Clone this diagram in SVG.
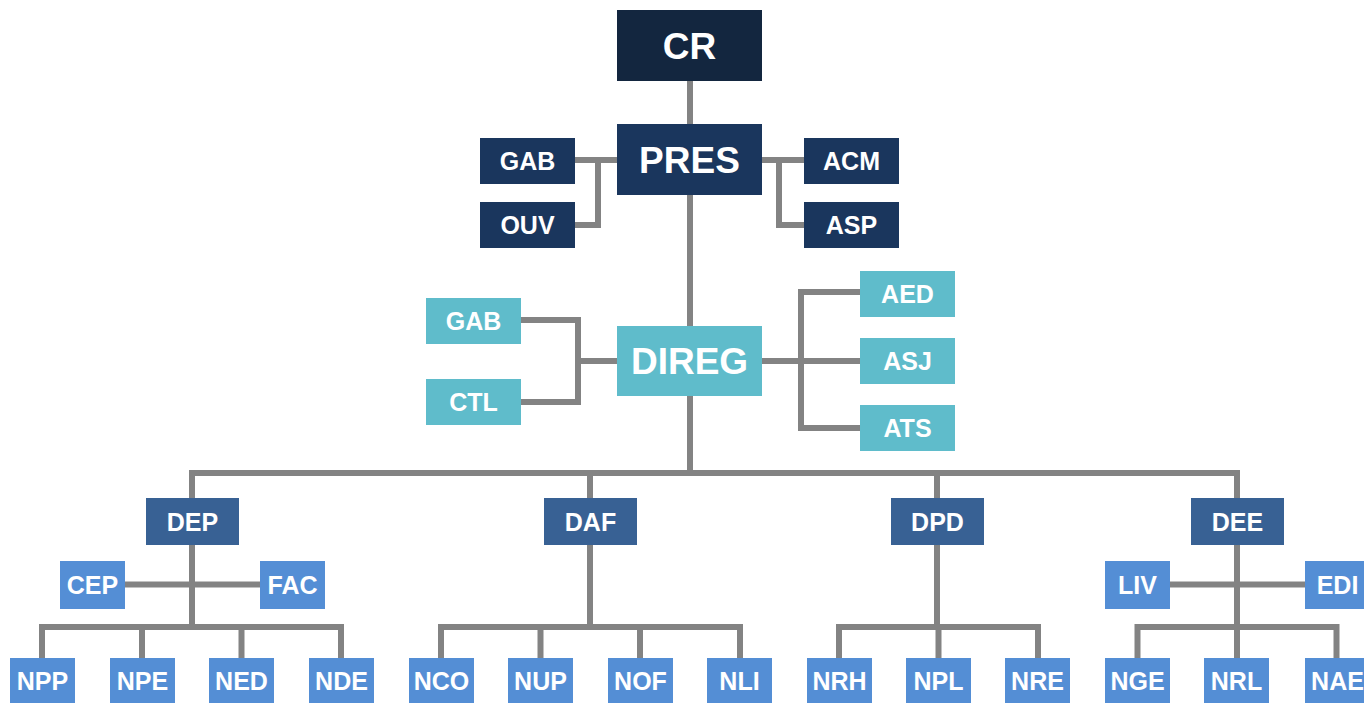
<svg xmlns="http://www.w3.org/2000/svg" width="1364" height="703" viewBox="0 0 1364 703">
<style>
.c{fill:none;stroke:#838383;stroke-width:6;stroke-linejoin:miter}
.t{font-family:"Liberation Sans",Arial,sans-serif;font-weight:bold;fill:#fff;text-anchor:middle}
.big{font-size:37px}
.sm{font-size:25px}
.n0{fill:#13263f}
.n1{fill:#1a365d}
.n2{fill:#5fbccb}
.n3{fill:#386194}
.n4{fill:#548ed5}
</style>
<rect width="1364" height="703" fill="#fff"/>
<g id="connectors">
<path class="c" d="M690,81 V124"/>
<path class="c" d="M575,160 H617 M598,160 V225 H575"/>
<path class="c" d="M762,160 H804 M779,160 V225 H804"/>
<path class="c" d="M690,195 V326"/>
<path class="c" d="M521,320 H578 V402 H521 M578,361 H617"/>
<path class="c" d="M762,361 H860 M860,292 H801 V428 H860"/>
<path class="c" d="M690,396 V473 M192,498 V473 H1237 V498 M590,473 V498 M937,473 V498"/>
<path class="c" d="M192,545 V627 M125,584.5 H260 M42,658 V627 H341 V658 M142,627 V658 M241.5,627 V658"/>
<path class="c" d="M590,545 V627 M441,658 V627 H740 V658 M540.5,627 V658 M640,627 V658"/>
<path class="c" d="M937,545 V627 M839,658 V627 H1038 V658 M938.5,627 V658"/>
<path class="c" d="M1237,545 V627 M1170,584.5 H1305 M1137.5,658 V627 H1336.5 V658 M1237,627 V658"/>
</g>
<g id="CR"><rect class="n0" x="617" y="10" width="145" height="71"/><text class="t big" x="689.5" y="59">CR</text></g>
<g id="PRES"><rect class="n1" x="617" y="124" width="145" height="71"/><text class="t big" x="689.5" y="173">PRES</text></g>
<g id="GAB1"><rect class="n1" x="480" y="138" width="95" height="46"/><text class="t sm" x="527.5" y="169.5">GAB</text></g>
<g id="OUV"><rect class="n1" x="480" y="202" width="95" height="46"/><text class="t sm" x="527.5" y="233.5">OUV</text></g>
<g id="ACM"><rect class="n1" x="804" y="138" width="95" height="46"/><text class="t sm" x="851.5" y="169.5">ACM</text></g>
<g id="ASP"><rect class="n1" x="804" y="202" width="95" height="46"/><text class="t sm" x="851.5" y="233.5">ASP</text></g>
<g id="DIREG"><rect class="n2" x="617" y="326" width="145" height="70"/><text class="t big" x="689.5" y="373.5">DIREG</text></g>
<g id="GAB2"><rect class="n2" x="426" y="298" width="95" height="46"/><text class="t sm" x="473.5" y="329.5">GAB</text></g>
<g id="CTL"><rect class="n2" x="426" y="379" width="95" height="46"/><text class="t sm" x="473.5" y="410.5">CTL</text></g>
<g id="AED"><rect class="n2" x="860" y="271" width="95" height="46"/><text class="t sm" x="907.5" y="302.5">AED</text></g>
<g id="ASJ"><rect class="n2" x="860" y="338" width="95" height="46"/><text class="t sm" x="907.5" y="369.5">ASJ</text></g>
<g id="ATS"><rect class="n2" x="860" y="405" width="95" height="46"/><text class="t sm" x="907.5" y="436.5">ATS</text></g>
<g id="DEP"><rect class="n3" x="146" y="498" width="93" height="47"/><text class="t sm" x="192.5" y="530.5">DEP</text></g>
<g id="DAF"><rect class="n3" x="544" y="498" width="93" height="47"/><text class="t sm" x="590.5" y="530.5">DAF</text></g>
<g id="DPD"><rect class="n3" x="891" y="498" width="93" height="47"/><text class="t sm" x="937.5" y="530.5">DPD</text></g>
<g id="DEE"><rect class="n3" x="1191" y="498" width="93" height="47"/><text class="t sm" x="1237.5" y="530.5">DEE</text></g>
<g id="CEP"><rect class="n4" x="60" y="561" width="65" height="48"/><text class="t sm" x="92.5" y="593.5">CEP</text></g>
<g id="FAC"><rect class="n4" x="260" y="561" width="65" height="48"/><text class="t sm" x="292.5" y="593.5">FAC</text></g>
<g id="LIV"><rect class="n4" x="1105" y="561" width="65" height="48"/><text class="t sm" x="1137.5" y="593.5">LIV</text></g>
<g id="EDI"><rect class="n4" x="1305" y="561" width="65" height="48"/><text class="t sm" x="1337.5" y="593.5">EDI</text></g>
<g id="NPP"><rect class="n4" x="10" y="658" width="65" height="45"/><text class="t sm" x="42.5" y="690">NPP</text></g>
<g id="NPE"><rect class="n4" x="110" y="658" width="65" height="45"/><text class="t sm" x="142.5" y="690">NPE</text></g>
<g id="NED"><rect class="n4" x="209" y="658" width="65" height="45"/><text class="t sm" x="241.5" y="690">NED</text></g>
<g id="NDE"><rect class="n4" x="309" y="658" width="65" height="45"/><text class="t sm" x="341.5" y="690">NDE</text></g>
<g id="NCO"><rect class="n4" x="409" y="658" width="65" height="45"/><text class="t sm" x="441.5" y="690">NCO</text></g>
<g id="NUP"><rect class="n4" x="508" y="658" width="65" height="45"/><text class="t sm" x="540.5" y="690">NUP</text></g>
<g id="NOF"><rect class="n4" x="608" y="658" width="65" height="45"/><text class="t sm" x="640.5" y="690">NOF</text></g>
<g id="NLI"><rect class="n4" x="707" y="658" width="65" height="45"/><text class="t sm" x="739.5" y="690">NLI</text></g>
<g id="NRH"><rect class="n4" x="807" y="658" width="65" height="45"/><text class="t sm" x="839.5" y="690">NRH</text></g>
<g id="NPL"><rect class="n4" x="906" y="658" width="65" height="45"/><text class="t sm" x="938.5" y="690">NPL</text></g>
<g id="NRE"><rect class="n4" x="1005" y="658" width="65" height="45"/><text class="t sm" x="1037.5" y="690">NRE</text></g>
<g id="NGE"><rect class="n4" x="1105" y="658" width="65" height="45"/><text class="t sm" x="1137.5" y="690">NGE</text></g>
<g id="NRL"><rect class="n4" x="1204" y="658" width="65" height="45"/><text class="t sm" x="1236.5" y="690">NRL</text></g>
<g id="NAE"><rect class="n4" x="1305" y="658" width="65" height="45"/><text class="t sm" x="1337.5" y="690">NAE</text></g>
</svg>
